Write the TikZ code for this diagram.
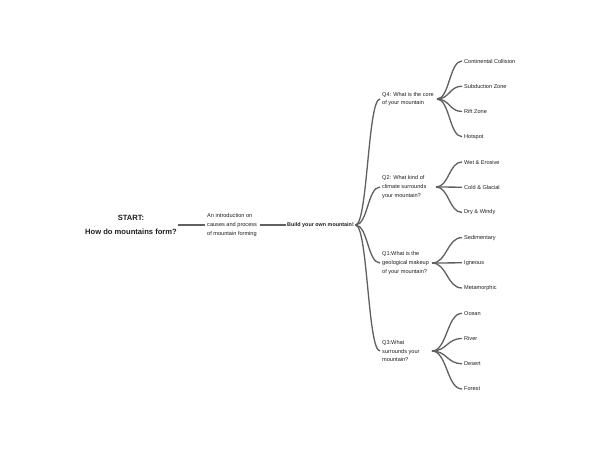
\documentclass[tikz,border=0pt]{standalone}
\usepackage{fontspec}
\setmainfont{Liberation Sans}
\usetikzlibrary{calc}
\definecolor{linec}{HTML}{606060}
\definecolor{textc}{HTML}{1E1E1E}
\begin{document}
\begin{tikzpicture}[x=1pt,y=-1pt,
  every node/.style={text=textc},
  startn/.style={font=\bfseries\fontsize{7.6}{14}\selectfont, align=center, inner sep=1pt},
  smalltext/.style={font=\fontsize{5.6}{8.6}\selectfont, align=left, inner xsep=2.5pt, inner ysep=0pt, anchor=west},
  rootn/.style={font=\bfseries\fontsize{5.4}{8}\selectfont, inner xsep=1.5pt, inner ysep=0pt, anchor=west},
  qnode/.style={font=\fontsize{5.6}{8.6}\selectfont, align=left, inner xsep=2pt, inner ysep=0pt, anchor=west},
  leaf/.style={font=\fontsize{5.6}{8}\selectfont, inner xsep=2pt, inner ysep=0pt, anchor=west},
  conn/.style={draw=linec, line width=1.3pt},
  branch/.style={conn, to path={let \p1=(\tikztostart), \p2=(\tikztotarget) in
     .. controls ({(\x1+\x2)/2},\y1) and ({(\x1+\x2)/2},\y2) .. (\tikztotarget)}}
]
\useasboundingbox (0,0) rectangle (600,450);
\fill[white] (0,0) rectangle (600,450);

\node[startn] (start) at (131,225) {START:\\How do mountains form?};
\node[smalltext] (intro) at (204.5,225) {An introduction on\\causes and process\\of mountain forming};
\node[rootn] (root) at (285.5,225) {Build your own mountain!};

\node[qnode] (q4) at (380,99) {Q4: What is the core\\of your mountain};
\node[qnode] (q2) at (380,187) {Q2: What kind of\\climate surrounds\\your mountain?};
\node[qnode] (q1) at (380,263) {Q1:What is the\\geological makeup\\of your mountain?};
\node[qnode] (q3) at (380,351) {Q3:What\\surrounds your\\mountain?};

\coordinate (f4) at (437,99);
\coordinate (f2) at (436,187);
\coordinate (f1) at (432,263);
\coordinate (f3) at (432,351);

\node[leaf] (l1) at (462,61) {Continental Collision};
\node[leaf] (l2) at (462,86.2) {Subduction Zone};
\node[leaf] (l3) at (462,111.5) {Rift Zone};
\node[leaf] (l4) at (462,136.7) {Hotspot};
\node[leaf] (l5) at (462,162) {Wet \& Erosive};
\node[leaf] (l6) at (462,187.2) {Cold \& Glacial};
\node[leaf] (l7) at (462,212.4) {Dry \& Windy};
\node[leaf] (l8) at (462,237.6) {Sedimentary};
\node[leaf] (l9) at (462,262.8) {Igneous};
\node[leaf] (l10) at (462,288) {Metamorphic};
\node[leaf] (l11) at (462,313.3) {Ocean};
\node[leaf] (l12) at (462,338.5) {River};
\node[leaf] (l13) at (462,363.7) {Desert};
\node[leaf] (l14) at (462,389) {Forest};

\draw[conn] (start.east) -- (intro.west);
\draw[conn] (intro.east) -- (root.west);

\foreach \q in {q4,q2,q1,q3} \draw[branch] (root.east) to (\q.west);

\foreach \l in {l1,l2,l3,l4} \draw[branch] (f4) to (\l.west);
\foreach \l in {l5,l6,l7} \draw[branch] (f2) to (\l.west);
\foreach \l in {l8,l9,l10} \draw[branch] (f1) to (\l.west);
\foreach \l in {l11,l12,l13,l14} \draw[branch] (f3) to (\l.west);
\end{tikzpicture}
\end{document}
